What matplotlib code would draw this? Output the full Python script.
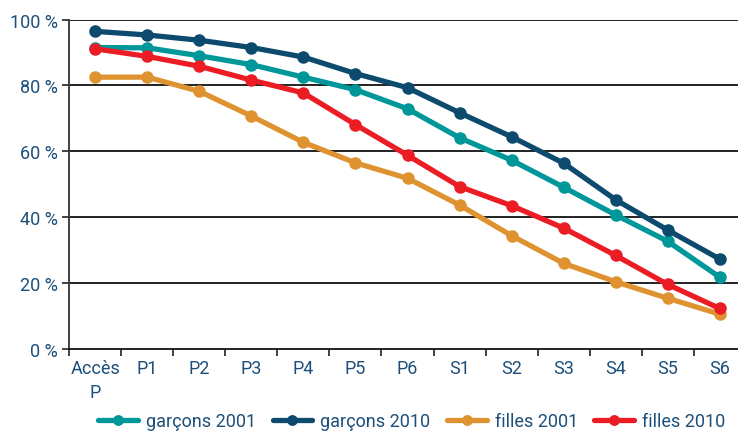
import matplotlib
matplotlib.use("Agg")
import matplotlib.pyplot as plt

categories = ["Accès\nP", "P1", "P2", "P3", "P4", "P5", "P6", "S1", "S2", "S3", "S4", "S5", "S6"]
garcons_2001 = [91.5, 91.4, 89.0, 86.3, 82.5, 78.7, 72.9, 64.1, 57.3, 49.1, 40.7, 32.7, 21.8]
garcons_2010 = [96.4, 95.3, 93.7, 91.5, 88.6, 83.6, 79.3, 71.7, 64.4, 56.4, 45.3, 36.1, 27.3]
filles_2001 = [82.5, 82.5, 78.2, 70.7, 62.7, 56.5, 51.8, 43.7, 34.4, 26.0, 20.4, 15.4, 10.6]
filles_2010 = [91.1, 88.8, 85.8, 81.6, 77.7, 68.1, 58.8, 49.3, 43.5, 36.7, 28.4, 19.6, 12.3]
series_names = ["garçons 2001", "garçons 2010", "filles 2001", "filles 2010"]
yticks = [0, 20, 40, 60, 80, 100]
ytick_labels = ["0 %", "20 %", "40 %", "60 %", "80 %", "100 %"]

colors = ["#00979b", "#0c4a6e", "#de9330", "#ec1c24"]
text_color = "#1d4f7a"

plt.rcParams['font.family'] = ["Roboto", "DejaVu Sans"]

fig = plt.figure(figsize=(7.38, 4.35), dpi=100)
ax = fig.add_axes([69.3 / 738, 85 / 435, 676.4 / 738, 329.5 / 435])

x = list(range(len(categories)))
for vals, name, c in zip([garcons_2001, garcons_2010, filles_2001, filles_2010], series_names, colors):
    ax.plot(x, vals, color=c, lw=3.8, marker="o", ms=8, label=name, solid_capstyle="round", zorder=3)

ax.set_xlim(-0.5, len(categories) - 0.5)
ax.set_ylim(0, 100)
ax.set_yticks(yticks)
ax.set_yticklabels(ytick_labels)
ax.set_xticks(x)
ax.set_xticklabels(categories, linespacing=1.45)
ax.set_xticks([i + 0.5 for i in range(-1, len(categories) - 1)], minor=True)
ax.tick_params(axis="x", which="major", length=0, pad=7, labelsize=13, labelcolor=text_color)
ax.tick_params(axis="x", which="minor", length=5, width=1.2, color="#222222", direction="out")
ax.tick_params(axis="y", length=5, width=1.2, color="#222222", pad=3, labelsize=13, labelcolor=text_color)

for y in yticks[1:]:
    ax.axhline(y, color="#111111", lw=1.3, zorder=1)
for s in ["top", "right"]:
    ax.spines[s].set_visible(False)
ax.spines["left"].set_color("#333333")
ax.spines["left"].set_linewidth(1.3)
ax.spines["bottom"].set_color("#111111")
ax.spines["bottom"].set_linewidth(1.3)

leg = fig.legend(loc="lower center", bbox_to_anchor=(0.558, -0.028), ncol=4, frameon=False,
                 fontsize=13, handlelength=2.2, columnspacing=0.9, handletextpad=0.45,
                 labelcolor=text_color, markerscale=0.85)

fig.savefig("out.png", dpi=100)
